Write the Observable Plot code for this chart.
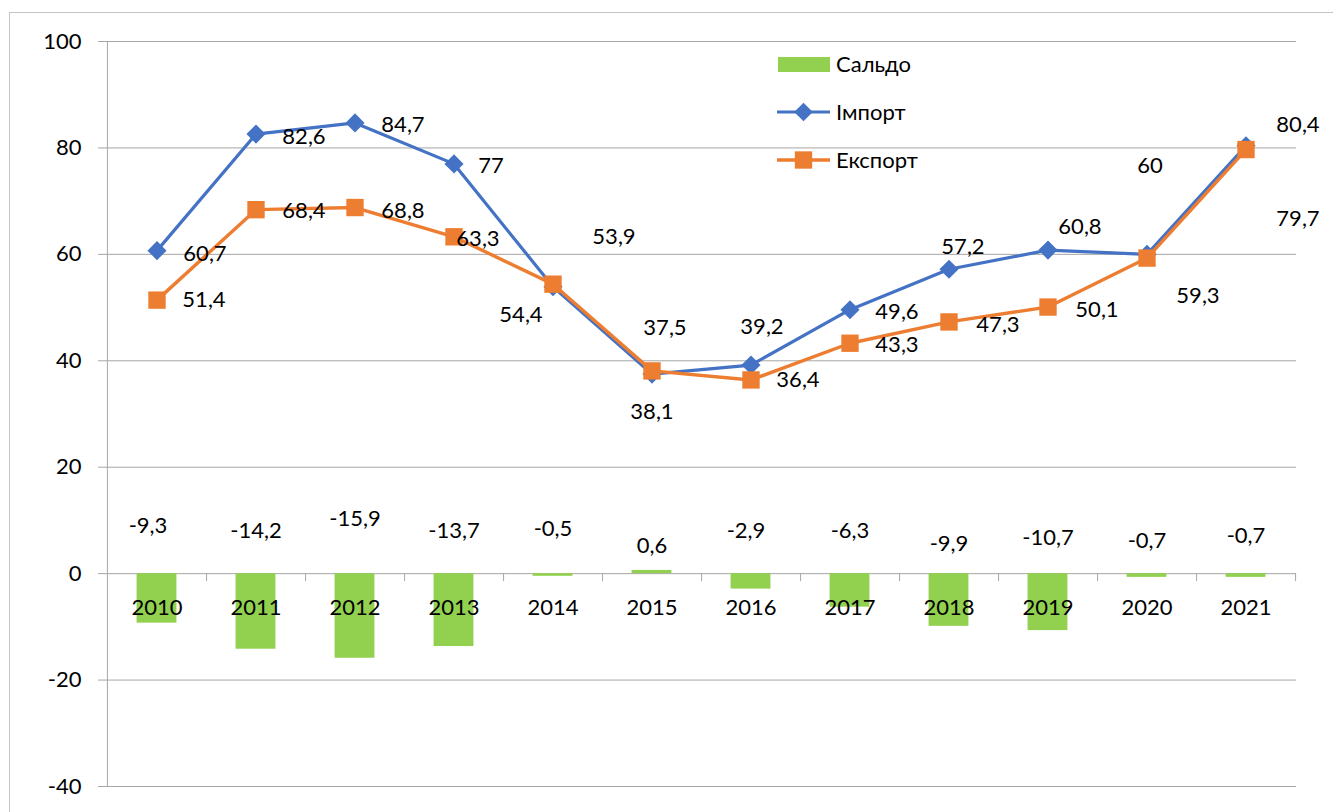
<!DOCTYPE html>
<html>
<head>
<meta charset="utf-8">
<script src="https://cdn.jsdelivr.net/npm/d3@7"></script>
<script src="https://cdn.jsdelivr.net/npm/@observablehq/plot@0.6"></script>
<style>
  body { margin: 0; background: #fff; }
  #wrap { position: relative; width: 1333px; height: 812px; overflow: hidden; }
  #frame { position: absolute; left: 9px; top: 12px; width: 1400px; height: 900px; border: 1px solid #c4c4c4; pointer-events: none; }
</style>
</head>
<body>
<div id="wrap"><div id="chart"></div><div id="frame"></div></div>
<script>
const years = [2010, 2011, 2012, 2013, 2014, 2015, 2016, 2017, 2018, 2019, 2020, 2021];
const importValues = [60.7, 82.6, 84.7, 77, 53.9, 37.5, 39.2, 49.6, 57.2, 60.8, 60, 80.4];
const exportValues = [51.4, 68.4, 68.8, 63.3, 54.4, 38.1, 36.4, 43.3, 47.3, 50.1, 59.3, 79.7];
const saldoValues = [-9.3, -14.2, -15.9, -13.7, -0.5, 0.6, -2.9, -6.3, -9.9, -10.7, -0.7, -0.7];
const yTicks = [-40, -20, 0, 20, 40, 60, 80, 100];
const seriesNames = ["Сальдо", "Імпорт", "Експорт"];

// label nudges in pixels (style only)
const importNudge = [[48,3],[48,3],[48,2],[37,2],[61,-50],[13,-46],[11,-38],[47,2],[14,-22],[32,-23],[3,-88],[52,-21]];
const exportNudge = [[47,0],[48,1],[48,3],[24,2],[-32,31],[0,41],[47,0],[47,2],[49,3],[49,3],[51,38],[52,69]];
const saldoNudge = [[-9,-48],[0,-43],[0,-55],[0,-43],[0,-45],[0,-28],[-5,-43],[0,-43],[0,-30],[0,-36],[0,-33],[0,-38]];

const colors = { saldo: "#92D050", imp: "#4472C4", exp: "#ED7D31" };
const fmt = v => String(v).replace(".", ",");

const imp = years.map((year, i) => ({ year, v: importValues[i] }));
const exp = years.map((year, i) => ({ year, v: exportValues[i] }));
const sal = years.map((year, i) => ({ year, v: saldoValues[i] }));

const W = 1333, H = 812, mL = 106, mR = 37, mT = 41, mB = 26;
const bw = (W - mL - mR) / years.length;
const FS = 22;
const FONT = "Lato, 'Open Sans', sans-serif";

const labels = (data, nudge, yFixed) => data.map((d, i) =>
  Plot.text([d], {
    x: "year", y: yFixed === undefined ? "v" : () => yFixed,
    text: d => fmt(d.v), dx: nudge[i][0], dy: nudge[i][1],
    fontSize: FS, fill: "#000"
  }));

const chart = Plot.plot({
  width: W, height: H,
  marginLeft: mL, marginRight: mR, marginTop: mT, marginBottom: mB,
  style: { fontFamily: FONT, fontSize: FS + "px", color: "#000", background: "transparent" },
  x: { type: "band", domain: years, padding: 0, axis: null },
  y: { domain: [-40, 100], axis: null },
  marks: [
    Plot.gridY(yTicks, { stroke: "#a6a6a6", strokeOpacity: 1 }),
    Plot.axisY(yTicks, { tickSize: 8, tickPadding: 17, stroke: "#a6a6a6", fontSize: FS, tickFormat: d => String(d), label: null }),
    Plot.ruleX([years[0]], { x: d => d, y1: -40, y2: 100, dx: -bw / 2, stroke: "#a6a6a6" }),
    Plot.ruleX(years, { x: d => d, y1: 0, y2: -1.5, dx: bw / 2, stroke: "#a6a6a6" }),
    Plot.barY(sal, { x: "year", y: "v", fill: colors.saldo, insetLeft: (bw - 40) / 2, insetRight: (bw - 40) / 2 }),
    Plot.text(years, { x: d => d, y: () => 0, text: d => String(d), dy: 34, fontSize: FS, fill: "#000" }),
    Plot.line(imp, { x: "year", y: "v", stroke: colors.imp, strokeWidth: 3.2 }),
    Plot.dot(imp, { x: "year", y: "v", symbol: "diamond2", r: 8.6, fill: colors.imp, stroke: "none" }),
    Plot.line(exp, { x: "year", y: "v", stroke: colors.exp, strokeWidth: 3.4 }),
    Plot.dot(exp, { x: "year", y: "v", symbol: "square", r: 9.8, fill: colors.exp, stroke: "none" }),
    ...labels(imp, importNudge),
    ...labels(exp, exportNudge),
    ...labels(sal, saldoNudge, 0)
  ]
});
document.getElementById("chart").appendChild(chart);

// legend (inside the plot area)
const svg = d3.select(chart);
const lg = svg.append("g").attr("font-family", FONT).attr("font-size", FS).attr("text-anchor", "start");
const rows = [64.5, 112, 160];
lg.append("rect").attr("x", 778).attr("y", rows[0] - 7.5).attr("width", 52).attr("height", 15).attr("fill", colors.saldo);
lg.append("line").attr("x1", 777).attr("x2", 830).attr("y1", rows[1]).attr("y2", rows[1]).attr("stroke", colors.imp).attr("stroke-width", 3.2);
lg.append("path").attr("d", d3.symbol(d3.symbolDiamond2, 220)()).attr("transform", `translate(803.5,${rows[1]})`).attr("fill", colors.imp);
lg.append("line").attr("x1", 777).attr("x2", 830).attr("y1", rows[2]).attr("y2", rows[2]).attr("stroke", colors.exp).attr("stroke-width", 3.4);
lg.append("path").attr("d", d3.symbol(d3.symbolSquare, 300)()).attr("transform", `translate(803.5,${rows[2]})`).attr("fill", colors.exp);
seriesNames.forEach((name, i) => {
  lg.append("text").attr("x", 836).attr("y", rows[i]).attr("dy", "0.35em").attr("text-anchor", "start").attr("fill", "#000").text(name);
});
</script>
</body>
</html>
